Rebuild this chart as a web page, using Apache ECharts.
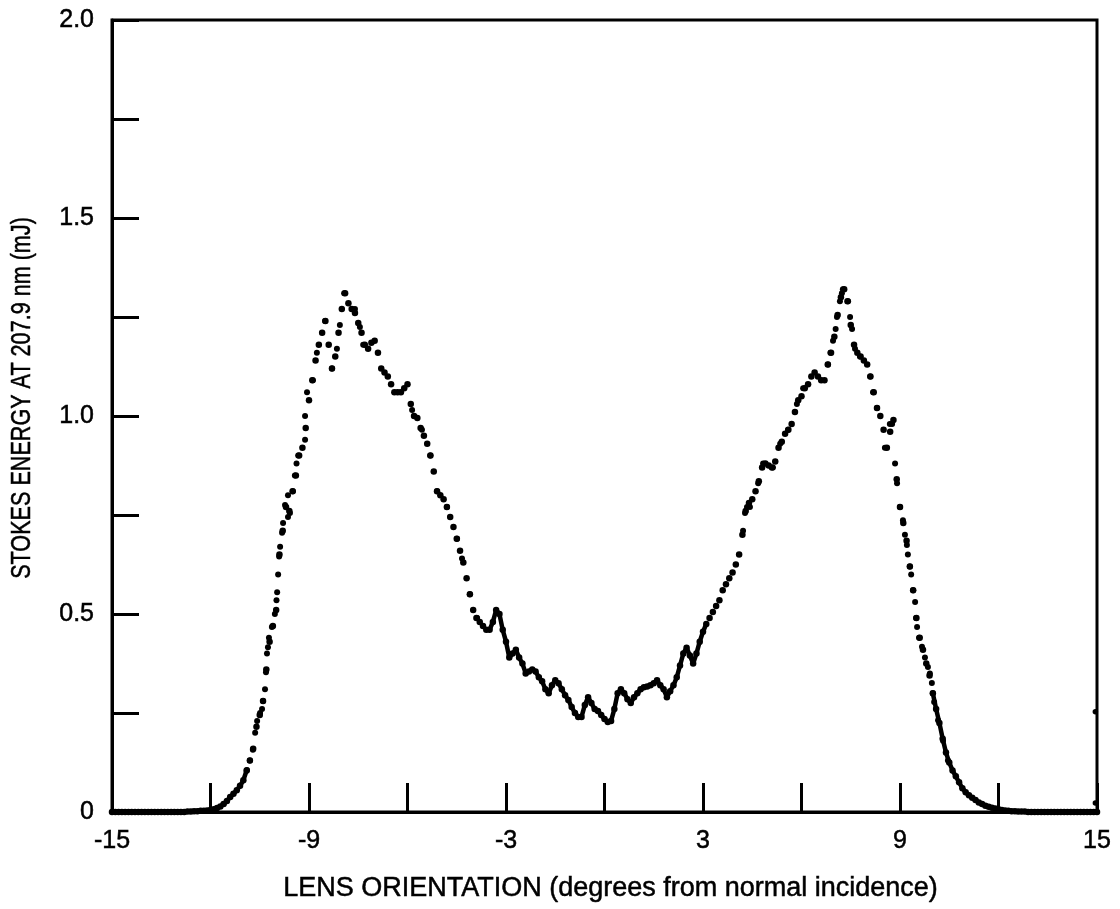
<!DOCTYPE html>
<html>
<head>
<meta charset="utf-8">
<script src="https://cdn.jsdelivr.net/npm/echarts@6/dist/echarts.min.js"></script>
<style>
html,body{margin:0;padding:0;background:#fff;}
#chart{width:1120px;height:909px;}
</style>
</head>
<body>
<div id="chart"></div>
<script>
// Sampling grid of the lens orientation (degrees), one reading every 0.1 degree
const xStart = -15;
const xStep = 0.1;
// Stokes energy (mJ), rows of 10 samples starting at -15, -14, ... 14, plus 15
const energy = [
  0,0,0,0,0,0,0,0,0,0,
  0,0,0,0,0,0,0,0,0,0,
  0,0,0,0.001,0.001,0.002,0.002,0.003,0.003,0.004,
  0.005,0.007,0.010,0.014,0.020,0.028,0.038,0.046,0.055,0.066,
  0.080,0.105,0.130,0.160,0.215,0.245,0.280,0.360,0.430,0.470,
  0.510,0.650,0.710,0.770,0.760,0.810,0.850,0.900,0.920,0.970,
  1.040,1.090,1.140,1.180,1.210,1.240,1.180,1.120,1.150,1.210,
  1.270,1.310,1.285,1.270,1.260,1.235,1.210,1.180,1.170,1.185,
  1.190,1.160,1.120,1.110,1.100,1.080,1.060,1.060,1.060,1.070,
  1.080,1.030,1.000,0.995,0.970,0.950,0.930,0.900,0.860,0.810,
  0.800,0.790,0.770,0.745,0.720,0.690,0.660,0.630,0.590,0.550,
  0.510,0.490,0.480,0.470,0.460,0.460,0.480,0.510,0.500,0.460,
  0.430,0.390,0.400,0.410,0.390,0.375,0.350,0.355,0.360,0.355,
  0.340,0.330,0.310,0.300,0.320,0.333,0.325,0.310,0.295,0.283,
  0.265,0.250,0.240,0.240,0.270,0.290,0.275,0.260,0.255,0.245,
  0.235,0.227,0.230,0.260,0.300,0.310,0.300,0.285,0.275,0.290,
  0.300,0.310,0.315,0.317,0.320,0.325,0.333,0.320,0.310,0.290,
  0.305,0.320,0.340,0.370,0.400,0.415,0.395,0.375,0.400,0.430,
  0.455,0.475,0.490,0.505,0.520,0.535,0.560,0.575,0.590,0.605,
  0.625,0.650,0.700,0.760,0.780,0.790,0.810,0.835,0.870,0.880,
  0.875,0.870,0.885,0.920,0.935,0.955,0.965,0.980,1.010,1.040,
  1.050,1.070,1.080,1.100,1.110,1.100,1.090,1.090,1.130,1.160,
  1.200,1.255,1.300,1.320,1.290,1.230,1.180,1.160,1.150,1.140,
  1.130,1.100,1.060,1.020,1.000,0.965,0.920,0.960,0.990,0.840,
  0.770,0.730,0.685,0.620,0.560,0.490,0.440,0.410,0.375,0.345,
  0.300,0.260,0.225,0.185,0.150,0.125,0.105,0.090,0.075,0.060,
  0.050,0.042,0.036,0.030,0.024,0.020,0.016,0.013,0.011,0.009,
  0.007,0.005,0.004,0.003,0.002,0.002,0.001,0.001,0.001,0,
  0,0,0,0,0,0,0,0,0,0,
  0,0,0,0,0,0,0,0,0,0,
  0
];
const extraDots = [
  [-10.89,0.106],[-10.80,0.13],[-10.71,0.157],[-10.64,0.20],[-10.58,0.23],
  [-10.49,0.25],[-10.43,0.26],[-10.40,0.28],[-10.34,0.31],[-10.31,0.353],[-10.28,0.40],
  [-10.25,0.416],[-10.22,0.44],[-10.13,0.467],[-10.04,0.50],[-9.99,0.535],[-9.97,0.555],
  [-9.94,0.60],[-9.91,0.645],[-9.88,0.67],[-9.82,0.705],[-9.79,0.73],[-9.73,0.775],
  [-9.58,0.755],[-9.64,0.80],[-9.64,0.745],[-9.49,0.81],[-9.43,0.85],[-9.38,0.88],
  [-9.33,0.90],[-9.12,0.94],[-9.12,1.00],[-9.06,1.06],[-8.88,1.09],[-8.76,1.16],
  [-8.51,1.24],[-8.30,1.12],[-8.15,1.17],[-8.06,1.23],[-7.93,1.31],
  [-7.60,1.27],[-7.45,1.225],[-7.35,1.18],[-5.86,1.015],[-5.56,0.965],[-5.31,0.90],
  [-5.10,0.81],[-4.80,0.77],[-4.49,0.69],[-4.34,0.64],[-4.10,0.55],[-3.88,0.49],
  [4.22,0.71],[4.28,0.755],[4.34,0.77],[4.43,0.77],[4.68,0.83],[4.83,0.88],[5.13,0.87],
  [5.35,0.93],[5.59,0.965],[5.86,1.03],[6.05,1.07],
  [6.81,1.13],[6.88,1.16],[6.96,1.19],[7.04,1.22],[7.08,1.25],[7.17,1.29],[7.23,1.31],
  [7.26,1.32],[7.42,1.29],[7.48,1.25],[7.54,1.22],[7.63,1.17],[7.78,1.15],
  [8.09,1.10],[8.18,1.06],[8.30,1.02],[8.54,0.92],[8.69,0.98],[8.76,0.98],
  [8.85,0.88],[8.91,0.83],[9.00,0.77],[9.09,0.737],[9.15,0.70],[9.21,0.674],[9.24,0.65],
  [9.30,0.62],[9.34,0.60],[9.40,0.56],[9.46,0.53],[9.49,0.49],[9.52,0.467],[9.58,0.44],
  [9.67,0.417],[9.76,0.39],[9.85,0.366],[9.91,0.35],[9.97,0.326],[10.00,0.30],
  [10.04,0.278],[10.16,0.232],[10.31,0.18],[10.46,0.13]
];
// Two stray readings at the right edge
const strayDots = [[14.95,0.253],[14.95,0.023]];
// Stretches of the record where the dots run together into a solid trace (degrees)
const solidRanges = [[-15, -10.9], [-3.6, 3.1], [10.0, 15]];

const xTickLabels = ['-15','-9','-3','3','9','15'];
const yTickLabels = {0:'0', 0.5:'0.5', 1:'1.0', 1.5:'1.5', 2:'2.0'};

const mainData = energy.map((v, i) => [Math.round((xStart + i * xStep) * 10) / 10, v]);
const inSolid = x => solidRanges.some(r => x >= r[0] - 1e-9 && x <= r[1] + 1e-9);
const solidData = mainData.map(p => inSolid(p[0]) ? p : [p[0], '-']);

const FONT = '"Liberation Sans", Arial, Helvetica, sans-serif';
const chart = echarts.init(document.getElementById('chart'), null, {renderer: 'canvas'});
chart.setOption({
  animation: false,
  backgroundColor: '#fff',
  grid: {left: 112, right: 23, top: 20, bottom: 97, show: true, borderColor: '#000', borderWidth: 3, backgroundColor: 'transparent'},
  xAxis: {
    type: 'value', min: -15, max: 15, interval: 3,
    axisLine: {show: true, onZero: false, lineStyle: {color: '#000', width: 3}},
    axisTick: {show: true, inside: true, length: 29, lineStyle: {color: '#000', width: 3}},
    splitLine: {show: false},
    axisLabel: {
      color: '#000', fontSize: 25, fontFamily: FONT, margin: 17, textBorderColor: '#000', textBorderWidth: 0.5,
      formatter: v => { const s = String(Math.round(v)); return xTickLabels.indexOf(s) >= 0 ? s : ''; }
    },
    name: 'LENS ORIENTATION (degrees from normal incidence)',
    nameLocation: 'middle', nameGap: 63,
    nameTextStyle: {color: '#000', fontSize: 27, fontFamily: FONT, padding: [0, 0, 0, 12], textBorderColor: '#000', textBorderWidth: 0.5}
  },
  yAxis: {
    type: 'value', min: 0, max: 2, interval: 0.25,
    axisLine: {show: true, onZero: false, lineStyle: {color: '#000', width: 3}},
    axisTick: {show: true, inside: true, length: 27, lineStyle: {color: '#000', width: 3}},
    splitLine: {show: false},
    axisLabel: {
      color: '#000', fontSize: 25, fontFamily: FONT, margin: 18, textBorderColor: '#000', textBorderWidth: 0.5,
      formatter: v => { const k = Math.round(v * 100) / 100; return yTickLabels[k] !== undefined ? yTickLabels[k] : ''; }
    }
  },
  graphic: [{
    type: 'text', x: 23, y: 398, rotation: Math.PI / 2, scaleX: 0.8,
    style: {text: 'STOKES ENERGY AT 207.9 nm (mJ)', fontSize: 27, fontFamily: FONT, fill: '#000', stroke: '#000', lineWidth: 0.5, align: 'center', verticalAlign: 'middle'}
  }],
  series: [
    {type: 'line', data: solidData, showSymbol: false, connectNulls: false, clip: false, lineStyle: {color: '#000', width: 4.5, join: 'round', cap: 'round'}, silent: true},
    {type: 'scatter', data: mainData, symbol: 'circle', symbolSize: 6.5, clip: false, itemStyle: {color: '#000', opacity: 1}, silent: true},
    {type: 'scatter', data: extraDots, symbol: 'circle', symbolSize: 6, itemStyle: {color: '#000', opacity: 1}, silent: true},
    {type: 'scatter', data: strayDots, symbol: 'circle', symbolSize: 5.5, clip: false, itemStyle: {color: '#000', opacity: 1}, silent: true}
  ]
});
</script>
</body>
</html>
